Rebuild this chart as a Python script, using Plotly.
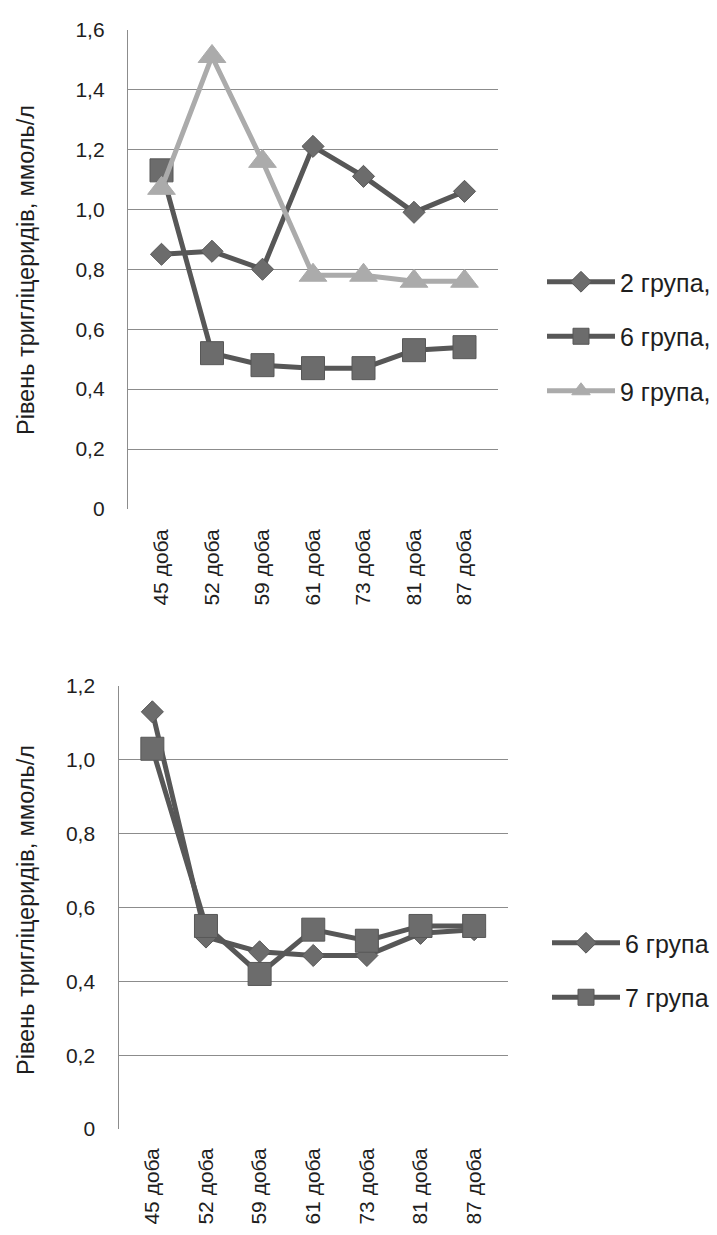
import plotly.graph_objects as go

categories = ["45 доба", "52 доба", "59 доба", "61 доба", "73 доба", "81 доба", "87 доба"]

# Top chart
g2_top = [0.85, 0.86, 0.80, 1.21, 1.11, 0.99, 1.06]
g6_top = [1.13, 0.52, 0.48, 0.47, 0.47, 0.53, 0.54]
g9_top = [1.07, 1.51, 1.16, 0.78, 0.78, 0.76, 0.76]
top_tickvals = [0, 0.2, 0.4, 0.6, 0.8, 1.0, 1.2, 1.4, 1.6]
top_ticktext = ["0", "0,2", "0,4", "0,6", "0,8", "1,0", "1,2", "1,4", "1,6"]

# Bottom chart
g6_bot = [1.13, 0.52, 0.48, 0.47, 0.47, 0.53, 0.54]
g7_bot = [1.03, 0.55, 0.42, 0.54, 0.51, 0.55, 0.55]
bot_tickvals = [0, 0.2, 0.4, 0.6, 0.8, 1.0, 1.2]
bot_ticktext = ["0", "0,2", "0,4", "0,6", "0,8", "1,0", "1,2"]

ytitle = "Рівень тригліцеридів, ммоль/л"
FONT = "Liberation Sans, Arial, sans-serif"
TXT = "#1e1e1e"
DARK = "#575757"
MID = "#6c6c6c"
LIGHT = "#ababab"
GRID = "#8c8c8c"

W, H = 717, 1235


def px_x(p):
    return p / W


def px_y(p):
    return 1 - p / H


fig = go.Figure()

fig.add_trace(go.Scatter(x=categories, y=g2_top, name="2 група,", mode="lines+markers",
                         line=dict(color=DARK, width=5),
                         marker=dict(symbol="diamond", size=17, color=MID, line=dict(color=DARK, width=1)),
                         xaxis="x", yaxis="y", legend="legend", legendgroup="a"))
fig.add_trace(go.Scatter(x=categories, y=g6_top, name="6 група,", mode="lines+markers",
                         line=dict(color=DARK, width=5),
                         marker=dict(symbol="square", size=23, color=MID, line=dict(color=DARK, width=1)),
                         xaxis="x", yaxis="y", legend="legend", legendgroup="b"))
fig.add_trace(go.Scatter(x=categories, y=g9_top, name="9 група,", mode="lines+markers",
                         line=dict(color=LIGHT, width=5),
                         marker=dict(symbol="triangle-up", size=24, color=LIGHT, line=dict(color=LIGHT, width=1)),
                         xaxis="x", yaxis="y", legend="legend", legendgroup="c"))

fig.add_trace(go.Scatter(x=categories, y=g6_bot, name="6 група", mode="lines+markers",
                         line=dict(color=DARK, width=5),
                         marker=dict(symbol="diamond", size=17, color=MID, line=dict(color=DARK, width=1)),
                         xaxis="x2", yaxis="y2", legend="legend2", legendgroup="d"))
fig.add_trace(go.Scatter(x=categories, y=g7_bot, name="7 група", mode="lines+markers",
                         line=dict(color=DARK, width=5),
                         marker=dict(symbol="square", size=23, color=MID, line=dict(color=DARK, width=1)),
                         xaxis="x2", yaxis="y2", legend="legend2", legendgroup="e"))

xfont = dict(family=FONT, size=21, color=TXT)
yfont = dict(family=FONT, size=21, color=TXT)
legfont = dict(family=FONT, size=25, color=TXT)
tfont = dict(family=FONT, size=23.5, color=TXT)

fig.update_layout(
    width=W, height=H,
    margin=dict(l=0, r=0, t=0, b=0, autoexpand=False),
    paper_bgcolor="white", plot_bgcolor="white",
    font=dict(family=FONT, size=16, color=TXT),
    xaxis=dict(domain=[px_x(128), px_x(498)], anchor="y", type="category",
               tickangle=-90, tickfont=xfont, showgrid=False, showline=False,
               ticks="", ticklabelstandoff=15, fixedrange=True),
    yaxis=dict(domain=[px_y(509), px_y(29.5)], anchor="x", range=[0, 1.6],
               tickvals=top_tickvals, ticktext=top_ticktext, tickfont=yfont,
               showgrid=True, gridcolor=GRID, gridwidth=1.3, zeroline=False,
               showline=True, linecolor=GRID, linewidth=1.3, ticks="",
               ticklabelstandoff=18, fixedrange=True),
    xaxis2=dict(domain=[px_x(118.5), px_x(508)], anchor="y2", type="category",
                tickangle=-90, tickfont=xfont, showgrid=False, showline=False,
                ticks="", ticklabelstandoff=14, fixedrange=True),
    yaxis2=dict(domain=[px_y(1129), px_y(686)], anchor="x2", range=[0, 1.2],
                tickvals=bot_tickvals, ticktext=bot_ticktext, tickfont=yfont,
                showgrid=True, gridcolor=GRID, gridwidth=1.3, zeroline=False,
                showline=True, linecolor=GRID, linewidth=1.3, ticks="",
                ticklabelstandoff=18, fixedrange=True),
    legend=dict(x=px_x(542), y=px_y(259), xanchor="left", yanchor="top",
                font=legfont, tracegroupgap=19, itemwidth=68, bgcolor="rgba(0,0,0,0)"),
    legend2=dict(x=px_x(547), y=px_y(920), xanchor="left", yanchor="top",
                 font=legfont, tracegroupgap=19, itemwidth=68, bgcolor="rgba(0,0,0,0)"),
    showlegend=True,
    annotations=[
        dict(text=ytitle, textangle=-90, x=px_x(26), y=px_y(270), xref="paper", yref="paper",
             xanchor="center", yanchor="middle", showarrow=False, font=tfont),
        dict(text=ytitle, textangle=-90, x=px_x(26), y=px_y(910), xref="paper", yref="paper",
             xanchor="center", yanchor="middle", showarrow=False, font=tfont),
    ],
)

pin = ("document.body.style.margin='0';document.body.style.overflow='hidden';"
       "var d=document.getElementById('{plot_id}');d.style.position='fixed';"
       "d.style.top='0px';d.style.left='0px';")

fig.write_html("out.html", post_script=pin, config={"displayModeBar": False})
